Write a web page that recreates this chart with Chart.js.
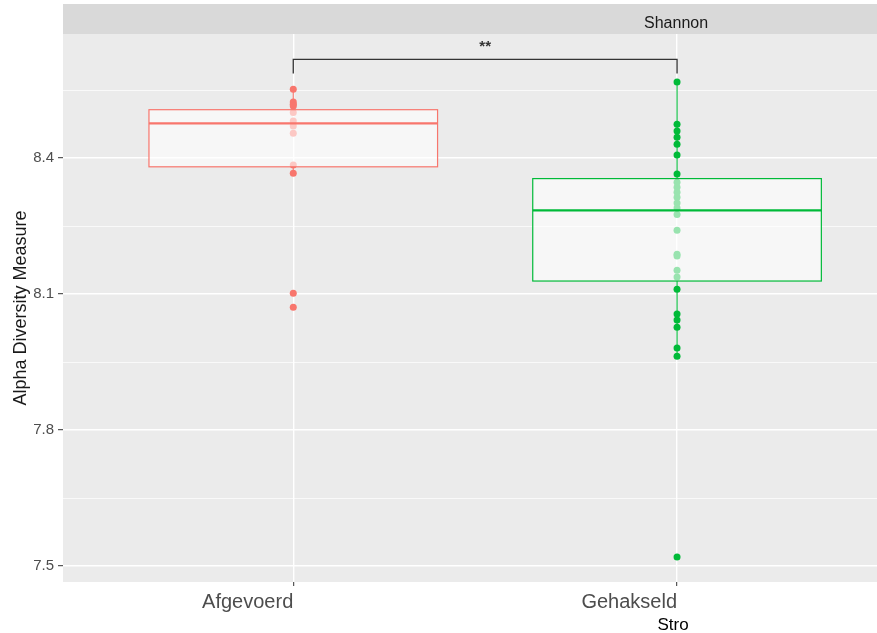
<!DOCTYPE html>
<html><head><meta charset="utf-8">
<script src="https://cdn.jsdelivr.net/npm/chart.js@4.4.1/dist/chart.umd.min.js"></script>
<style>html,body{margin:0;padding:0;background:#fff;}#wrap{width:877px;height:633px;}</style>
</head><body><div id="wrap"><canvas id="c" width="877" height="633"></canvas></div>
<script>
const categories = ['Afgevoerd', 'Gehakseld'];
const afgevoerdValues = [8.552, 8.524, 8.519, 8.515, 8.501, 8.482, 8.471, 8.455, 8.385, 8.367, 8.102, 8.071];
const gehakseldValues = [8.568, 8.475, 8.460, 8.446, 8.431, 8.407, 8.365, 8.347, 8.336, 8.325, 8.314, 8.301, 8.290, 8.276, 8.241, 8.188, 8.184, 8.153, 8.138, 8.111, 8.056, 8.043, 8.027, 7.981, 7.963, 7.520];
const boxQ1 = [8.381, 8.129];
const boxMedian = [8.477, 8.285];
const boxQ3 = [8.507, 8.355];
const whiskerLow = [8.367, 7.963];
const whiskerHigh = [8.552, 8.568];
const yMajorTicks = [7.5, 7.8, 8.1, 8.4];
const yMinorTicks = [7.65, 7.95, 8.25, 8.55];
const panelTitle = 'Shannon';
const xTitle = 'Stro';
const yTitle = 'Alpha Diversity Measure';
const signifLabel = '**';
const bracketDropValue = 8.587;
const bracketBarValue = 8.618;
const signifLabelValue = 8.652;

const colors = ['#F8766D', '#00BA38'];
const FONT = "'Liberation Sans', Arial, sans-serif";
const isMajor = v => yMajorTicks.some(t => Math.abs(t - v) < 1e-6);

const panelPlugin = {
  id: 'panel',
  beforeDraw(chart) {
    const { ctx, chartArea: a, scales: { x } } = chart;
    ctx.save();
    ctx.fillStyle = '#EBEBEB';
    ctx.fillRect(a.left, a.top, a.right - a.left, a.bottom - a.top);
    ctx.fillStyle = '#D9D9D9';
    ctx.fillRect(a.left, 4, a.right - a.left, a.top - 4);
    ctx.fillStyle = '#1A1A1A';
    ctx.font = '16px ' + FONT;
    ctx.textAlign = 'center';
    ctx.textBaseline = 'alphabetic';
    ctx.fillText(panelTitle, x.getPixelForValue(2) - 1, 27.5);
    ctx.restore();
  },
  afterDatasetsDraw(chart) {
    const { ctx, scales: { x, y } } = chart;
    ctx.save();
    for (let i = 0; i < categories.length; i++) {
      const cx = x.getPixelForValue(i + 1);
      const hw = x.getPixelForValue(i + 1 + 0.376) - cx;
      ctx.strokeStyle = colors[i];
      ctx.lineWidth = 1.1;
      ctx.beginPath();
      ctx.moveTo(cx, y.getPixelForValue(whiskerHigh[i]));
      ctx.lineTo(cx, y.getPixelForValue(boxQ3[i]));
      ctx.moveTo(cx, y.getPixelForValue(boxQ1[i]));
      ctx.lineTo(cx, y.getPixelForValue(whiskerLow[i]));
      ctx.stroke();
      const top = y.getPixelForValue(boxQ3[i]);
      const bot = y.getPixelForValue(boxQ1[i]);
      ctx.fillStyle = 'rgba(255,255,255,0.6)';
      ctx.fillRect(cx - hw, top, 2 * hw, bot - top);
      ctx.lineWidth = 1.2;
      ctx.strokeRect(cx - hw, top, 2 * hw, bot - top);
      ctx.lineWidth = 2.2;
      const my = y.getPixelForValue(boxMedian[i]);
      ctx.beginPath();
      ctx.moveTo(cx - hw, my);
      ctx.lineTo(cx + hw, my);
      ctx.stroke();
    }
    // significance bracket
    const x1 = x.getPixelForValue(1), x2 = x.getPixelForValue(2);
    const yb = y.getPixelForValue(bracketBarValue), yd = y.getPixelForValue(bracketDropValue);
    ctx.strokeStyle = '#333333';
    ctx.lineWidth = 1.3;
    ctx.beginPath();
    ctx.moveTo(x1, yd); ctx.lineTo(x1, yb); ctx.lineTo(x2, yb); ctx.lineTo(x2, yd);
    ctx.stroke();
    ctx.fillStyle = '#333333';
    ctx.font = 'bold 15px ' + FONT;
    ctx.textAlign = 'center';
    ctx.textBaseline = 'middle';
    ctx.fillText(signifLabel, (x1 + x2) / 2, y.getPixelForValue(signifLabelValue) + 3);
    ctx.restore();
  },
  afterDraw(chart) {
    const { ctx, scales: { x } } = chart;
    ctx.save();
    ctx.fillStyle = '#000000';
    ctx.font = '17px ' + FONT;
    ctx.textAlign = 'center';
    ctx.textBaseline = 'alphabetic';
    ctx.fillText(xTitle, x.getPixelForValue(2) - 4, 630);
    ctx.restore();
  }
};

new Chart(document.getElementById('c'), {
  type: 'scatter',
  data: {
    datasets: [
      { label: categories[0], data: afgevoerdValues.map(v => ({ x: 1, y: v })), backgroundColor: colors[0], borderColor: colors[0], borderWidth: 0, pointRadius: 3.5, pointHoverRadius: 3.5 },
      { label: categories[1], data: gehakseldValues.map(v => ({ x: 2, y: v })), backgroundColor: colors[1], borderColor: colors[1], borderWidth: 0, pointRadius: 3.5, pointHoverRadius: 3.5 }
    ]
  },
  options: {
    responsive: false,
    animation: false,
    events: [],
    layout: { padding: { top: 34, left: 0, right: 0, bottom: 0 }, autoPadding: false },
    plugins: { legend: { display: false }, tooltip: { enabled: false } },
    scales: {
      x: {
        type: 'linear', min: 0.4, max: 2.521,
        afterBuildTicks: s => { s.ticks = categories.map((c, i) => ({ value: i + 1 })); },
        afterFit: s => { s.height = 51; },
        ticks: { callback: v => categories[Math.round(v) - 1], align: 'end', color: '#4D4D4D', font: { family: FONT, size: 20 }, padding: 4, maxRotation: 0, autoSkip: false },
        grid: { color: '#FFFFFF', lineWidth: 1.4, tickLength: 4, tickColor: '#333333', tickWidth: 1 },
        border: { display: false }
      },
      y: {
        min: 7.465, max: 8.674,
        afterBuildTicks: s => { s.ticks = [...yMajorTicks, ...yMinorTicks].sort((a, b) => a - b).map(v => ({ value: v })); },
        afterFit: s => { s.width = 63; },
        ticks: { callback: v => isMajor(v) ? v.toFixed(1) : '', color: '#4D4D4D', font: { family: FONT, size: 15 }, padding: 4, autoSkip: false },
        grid: { color: '#FFFFFF', lineWidth: c => isMajor(c.tick.value) ? 1.4 : 0.7, tickLength: 5, tickColor: c => isMajor(c.tick.value) ? '#333333' : 'rgba(0,0,0,0)', tickWidth: 1 },
        border: { display: false },
        title: { display: true, text: yTitle, color: '#1A1A1A', font: { family: FONT, size: 18 }, padding: { top: 10, bottom: 0 } }
      }
    }
  },
  plugins: [panelPlugin]
});
</script></body></html>
